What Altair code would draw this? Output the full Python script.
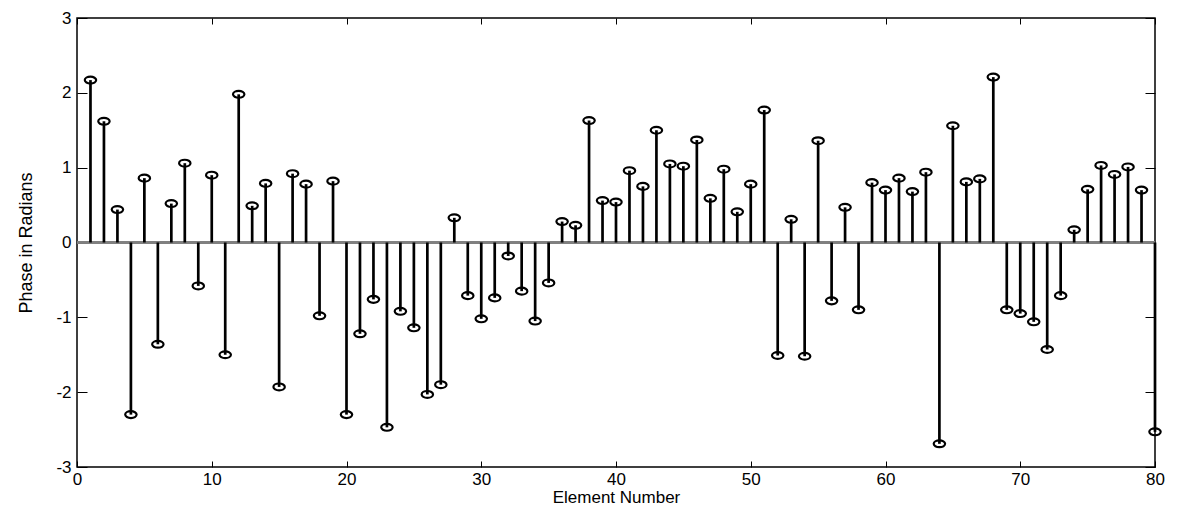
import altair as alt
import pandas as pd

element = list(range(1, 81))
phase = [2.17, 1.62, 0.44, -2.30, 0.86, -1.36, 0.52, 1.06, -0.58, 0.90,
         -1.50, 1.98, 0.49, 0.79, -1.93, 0.92, 0.78, -0.98, 0.82, -2.30,
         -1.22, -0.76, -2.47, -0.92, -1.14, -2.03, -1.90, 0.33, -0.71, -1.02,
         -0.74, -0.18, -0.65, -1.05, -0.54, 0.28, 0.23, 1.63, 0.56, 0.54,
         0.96, 0.75, 1.50, 1.05, 1.02, 1.37, 0.59, 0.98, 0.41, 0.78,
         1.77, -1.51, 0.31, -1.52, 1.36, -0.78, 0.47, -0.90, 0.80, 0.70,
         0.86, 0.68, 0.94, -2.69, 1.56, 0.81, 0.85, 2.21, -0.90, -0.95,
         -1.06, -1.43, -0.71, 0.17, 0.71, 1.03, 0.91, 1.01, 0.70, -2.53]
x_ticks = [0, 10, 20, 30, 40, 50, 60, 70, 80]
y_ticks = [-3, -2, -1, 0, 1, 2, 3]

W, H = 1078, 449
FONT = "Liberation Sans"

df = pd.DataFrame({"element": element, "phase": phase})
xs = alt.Scale(domain=[0, 80], nice=False, zero=False)
ys = alt.Scale(domain=[-3, 3], nice=False, zero=False)


def tick_axis(orient, offset, size):
    return alt.Axis(orient=orient, offset=offset, values=(x_ticks if orient in ("top", "bottom") else y_ticks),
                    labels=False, domain=False, title=None, ticks=True, tickSize=size,
                    tickColor="black", tickWidth=1, grid=False)


base = alt.Chart(df)

baseline = base.mark_rule(color="#808080", strokeWidth=1.5).encode(
    y=alt.YDatum(0, scale=ys, axis=None)
)

stems = base.mark_rule(color="black", strokeWidth=2.7).encode(
    x=alt.X("element:Q", scale=xs,
            axis=alt.Axis(orient="bottom", values=x_ticks, title="Element Number",
                          ticks=False, domain=False, grid=False, labelFlush=False,
                          labelExpr="'' + datum.value",
                          labelFont=FONT, labelFontSize=17, labelColor="black", labelPadding=4,
                          titleFont=FONT, titleFontSize=17, titleFontWeight="normal",
                          titleColor="black", titlePadding=2)),
    y=alt.Y("phase:Q", scale=ys,
            axis=alt.Axis(orient="left", values=y_ticks, title="Phase in Radians",
                          ticks=False, domain=False, grid=False, labelFlush=False,
                          labelExpr="'' + datum.value",
                          labelFont=FONT, labelFontSize=17, labelColor="black", labelPadding=6,
                          titleFont=FONT, titleFontSize=18, titleFontWeight="normal",
                          titleColor="black", titlePadding=20)),
    y2=alt.datum(0),
)

ellipse = ("M-1,0 C-1,-0.331 -0.552,-0.6 0,-0.6 C0.552,-0.6 1,-0.331 1,0 "
           "C1,0.331 0.552,0.6 0,0.6 C-0.552,0.6 -1,0.331 -1,0 Z")
markers = base.mark_point(shape=ellipse, size=130, filled=False, strokeWidth=2.2,
                          color="black", opacity=1).encode(
    x=alt.X("element:Q", scale=xs, axis=tick_axis("top", -H, 6)),
    y=alt.Y("phase:Q", scale=ys, axis=tick_axis("right", -W, 10)),
)

ghost = base.mark_point(opacity=0).encode(
    x=alt.X("element:Q", scale=xs, axis=tick_axis("bottom", -H, 6)),
    y=alt.Y("phase:Q", scale=ys, axis=tick_axis("left", -W, 10)),
)

chart = alt.layer(baseline, stems, markers, ghost).resolve_axis(
    x="independent", y="independent"
).properties(
    width=W, height=H,
    autosize=alt.AutoSizeParams(type="none"),
    padding={"left": 77, "top": 18, "right": 27, "bottom": 43},
    background="white",
).configure_view(stroke="black", strokeWidth=1.5)

chart.save("out.html", embed_options={"renderer": "svg", "actions": False})
